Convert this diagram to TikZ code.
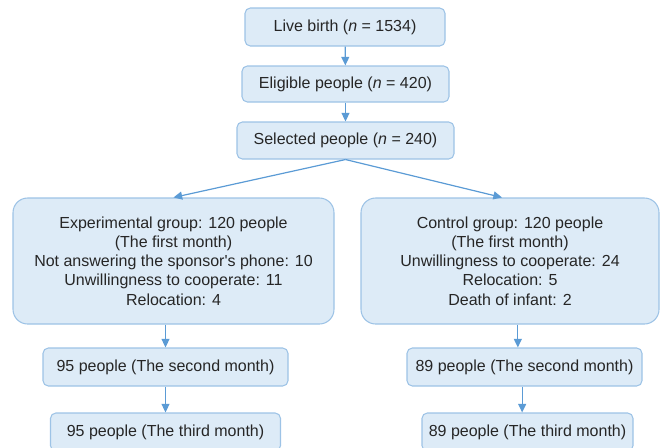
\documentclass[tikz,border=0pt]{standalone}
\usepackage{fontspec}
\setmainfont{Liberation Sans}
\usepackage{xcolor}
\definecolor{cFill}{HTML}{DDEBF7}
\definecolor{cLine}{HTML}{9DC3E6}
\definecolor{cArrow}{HTML}{5B9BD5}
\definecolor{cText}{HTML}{262626}
\usetikzlibrary{arrows.meta}
\tikzset{
  node-box/.style={draw=cLine,line width=0.8pt,fill=cFill,rounded corners=4pt,
    inner sep=0pt,align=center,text=cText,font=\fontsize{12}{14.4}\selectfont},
  node-group/.style={node-box,rounded corners=11pt,minimum height=94.5pt},
  arrow/.style={-{Triangle[length=6.5pt,width=6pt]},line width=0.9pt,draw=cArrow},
}
\begin{document}
\begin{tikzpicture}[x=0.75pt,y=-0.75pt]
  \useasboundingbox (0,0) rectangle (660,447);
  % top chain
  \node[node-box,minimum width=150pt,minimum height=28.5pt] (live) at (345,27)
    {Live birth (\textit{n} = 1534)};
  \node[node-box,minimum width=155.25pt,minimum height=27pt] (elig) at (345.5,84)
    {Eligible people (\textit{n} = 420)};
  \node[node-box,minimum width=162.75pt,minimum height=27.75pt] (sel) at (345.5,140.5)
    {Selected people (\textit{n} = 240)};
  % the two groups
  \node[node-group,minimum width=240.75pt] (exp) at (173.5,261)
    {Experimental group: 120 people\\(The first month)\\
     Not answering the sponsor\textquotesingle s phone: 10\\Unwillingness to cooperate: 11\\Relocation: 4};
  \node[node-group,minimum width=223.5pt] (ctrl) at (510,261)
    {Control group: 120 people\\(The first month)\\
     Unwillingness to cooperate: 24\\Relocation: 5\\Death of infant: 2};
  \node[node-box,minimum width=183.75pt,minimum height=28.5pt] (exp2) at (165.5,367)
    {95 people (The second month)};
  \node[node-box,minimum width=176.25pt,minimum height=28.5pt] (ctrl2) at (524.5,367)
    {89 people (The second month)};
  \node[node-box,minimum width=172.5pt,minimum height=28.5pt] (exp3) at (165.5,432)
    {95 people (The third month)};
  \node[node-box,minimum width=158.25pt,minimum height=28.5pt] (ctrl3) at (527.5,432)
    {89 people (The third month)};
  % connectors
  \draw[arrow] (live) -- (elig);
  \draw[arrow] (elig) -- (sel);
  \draw[arrow] (sel.south) -- (exp.north);
  \draw[arrow] (sel.south) -- ([xshift=-6pt]ctrl.north);
  \draw[arrow] (exp2.north |- exp.south) -- (exp2.north);
  \draw[arrow] ([xshift=-5pt]ctrl2.north |- ctrl.south) -- ([xshift=-5pt]ctrl2.north);
  \draw[arrow] (exp3.north |- exp2.south) -- (exp3.north);
  \draw[arrow] ([xshift=-4pt]ctrl3.north |- ctrl2.south) -- ([xshift=-4pt]ctrl3.north);
\end{tikzpicture}
\end{document}
